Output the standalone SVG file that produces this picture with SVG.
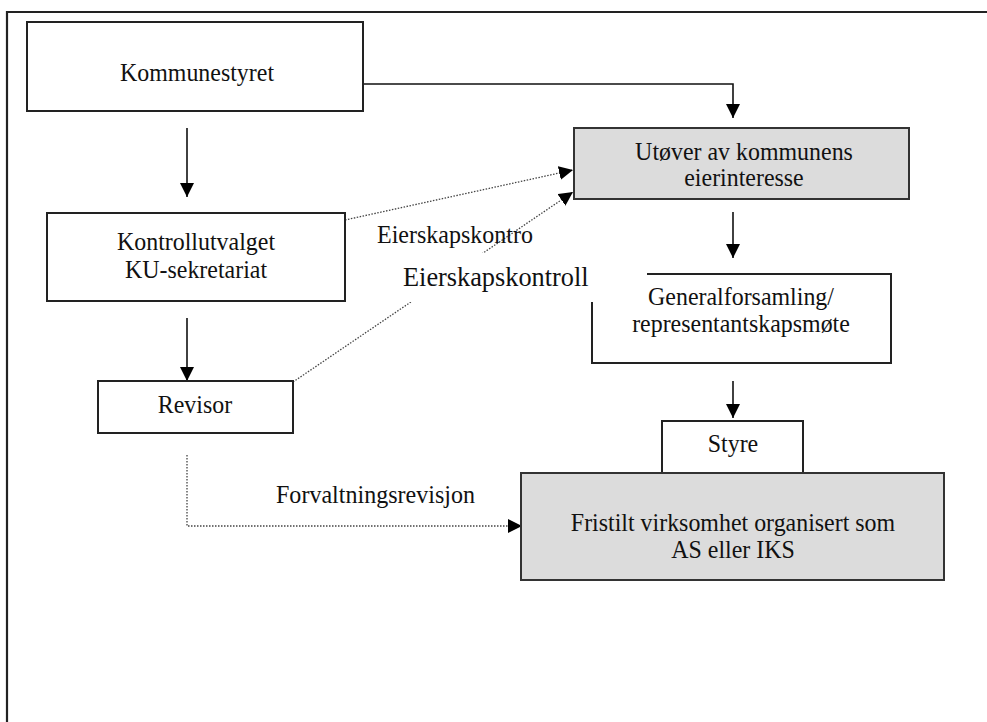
<svg xmlns="http://www.w3.org/2000/svg" width="987" height="722" viewBox="0 0 987 722">
<style>
.box{fill:#fff;stroke:#222;stroke-width:2}
.gray{fill:#dcdcdc;stroke:#333;stroke-width:2}
.t{font-family:"Liberation Serif","Times New Roman",serif;font-size:26px;fill:#111;text-anchor:middle}
.lbl{font-family:"Liberation Serif","Times New Roman",serif;fill:#111}
.solid{fill:none;stroke:#111;stroke-width:1.6}
.dot{fill:none;stroke:#444;stroke-width:1.3;stroke-dasharray:1.5 1.5}
</style>
<defs>
<marker id="ah" markerUnits="userSpaceOnUse" markerWidth="14" markerHeight="14" refX="14" refY="7" orient="auto">
<path d="M0,0 L14,7 L0,14 z" fill="#000"/>
</marker>
</defs>
<rect width="987" height="722" fill="#fff"/>
<g id="frame">
<path d="M7,722 V12 H987" fill="none" stroke="#222" stroke-width="2.2"/>
</g>
<g id="connectors">
<path class="solid" d="M363,84 H733 V118" marker-end="url(#ah)"/>
<path class="solid" d="M187,128 V197" marker-end="url(#ah)"/>
<path class="solid" d="M187,318 V381" marker-end="url(#ah)"/>
<path class="solid" d="M733,212 V258" marker-end="url(#ah)"/>
<path class="solid" d="M733,381 V418" marker-end="url(#ah)"/>
<path class="dot" d="M345,220 L573,170" marker-end="url(#ah)"/>
<path class="dot" d="M293,382 L573,192" marker-end="url(#ah)"/>
<path class="dot" d="M187,455 V526 H522" marker-end="url(#ah)"/>
</g>
<g id="kommunestyret">
<rect class="box" x="27" y="22" width="336" height="89"/>
<text class="t" transform="translate(197 81) scale(0.92 1)">Kommunestyret</text>
</g>
<g id="utover">
<rect class="gray" x="574" y="128" width="335" height="71"/>
<text class="t" transform="translate(744 160) scale(0.92 1)">Utøver av kommunens</text>
<text class="t" transform="translate(744 186) scale(0.92 1)">eierinteresse</text>
</g>
<g id="kontrollutvalget">
<rect class="box" x="47" y="213" width="298" height="88"/>
<text class="t" transform="translate(196 250) scale(0.92 1)">Kontrollutvalget</text>
<text class="t" transform="translate(196 278) scale(0.92 1)">KU-sekretariat</text>
</g>
<g id="revisor">
<rect class="box" x="98" y="381" width="195" height="52"/>
<text class="t" transform="translate(195 413) scale(0.92 1)">Revisor</text>
</g>
<g id="generalforsamling">
<rect class="box" x="592" y="274" width="299" height="89"/>
<text class="t" transform="translate(741 305) scale(0.92 1)">Generalforsamling/</text>
<text class="t" transform="translate(741 332) scale(0.92 1)">representantskapsmøte</text>
</g>
<g id="styre">
<rect class="box" x="662" y="421" width="141" height="52"/>
<text class="t" transform="translate(733 452) scale(0.92 1)">Styre</text>
</g>
<g id="fristilt">
<rect class="gray" x="521" y="473" width="423" height="107"/>
<text class="t" transform="translate(733 531) scale(0.92 1)">Fristilt virksomhet organisert som</text>
<text class="t" transform="translate(733 558) scale(0.92 1)">AS eller IKS</text>
</g>
<g id="label-eierskapskontro">
<text class="lbl" font-size="25" transform="translate(377 243) scale(0.96 1)">Eierskapskontro</text>
</g>
<g id="label-eierskapskontroll">
<rect x="410" y="253" width="237" height="49" fill="#fff"/>
<text class="lbl" font-size="28" transform="translate(403 286) scale(0.94 1)">Eierskapskontroll</text>
</g>
<g id="label-forvaltningsrevisjon">
<text class="lbl" font-size="26" transform="translate(276 503) scale(0.925 1)">Forvaltningsrevisjon</text>
</g>
</svg>
